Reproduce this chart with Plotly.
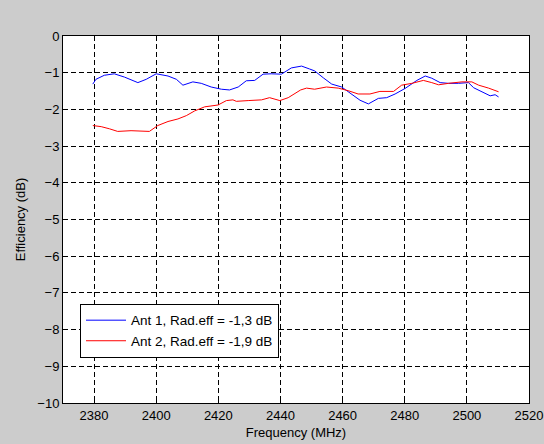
import plotly.graph_objects as go

freq_ant1 = [2379.6, 2380.6, 2383.3, 2386.5, 2389.8, 2394.1, 2396.8, 2400.0, 2403.8, 2406.5,
             2408.6, 2411.8, 2414.5, 2417.7, 2421.0, 2423.6, 2426.4, 2429.0, 2431.7, 2434.4,
             2437.0, 2440.3, 2443.5, 2446.8, 2449.4, 2451.0, 2453.8, 2456.5, 2459.7, 2462.9,
             2465.6, 2468.3, 2471.5, 2474.2, 2476.9, 2480.1, 2483.9, 2486.6, 2488.7, 2491.4,
             2494.1, 2497.3, 2500.5, 2502.2, 2504.8, 2507.5, 2509.1, 2510.2]
eff_ant1 = [-1.31, -1.18, -1.07, -1.03, -1.12, -1.27, -1.18, -1.03, -1.09, -1.18,
            -1.34, -1.25, -1.29, -1.39, -1.45, -1.47, -1.39, -1.22, -1.21, -1.04,
            -1.03, -1.04, -0.87, -0.82, -0.90, -0.95, -1.14, -1.31, -1.39, -1.58,
            -1.75, -1.85, -1.70, -1.68, -1.58, -1.43, -1.21, -1.09, -1.15, -1.27,
            -1.29, -1.29, -1.27, -1.41, -1.51, -1.63, -1.60, -1.66]

freq_ant2 = [2379.6, 2382.3, 2385.0, 2387.6, 2391.9, 2395.2, 2397.8, 2400.5, 2403.8, 2407.0,
             2409.7, 2412.4, 2415.6, 2419.9, 2422.6, 2424.7, 2425.8, 2429.6, 2433.9, 2436.5,
             2439.8, 2442.5, 2444.6, 2446.5, 2448.4, 2451.0, 2454.8, 2458.6, 2461.8, 2465.0,
             2468.8, 2472.0, 2476.4, 2479.0, 2482.3, 2486.0, 2488.7, 2490.9, 2494.1, 2498.4,
             2501.6, 2503.8, 2507.0, 2510.2]
eff_ant2 = [-2.44, -2.47, -2.53, -2.60, -2.58, -2.60, -2.60, -2.44, -2.33, -2.26,
            -2.17, -2.04, -1.93, -1.88, -1.76, -1.74, -1.78, -1.76, -1.74, -1.68,
            -1.76, -1.68, -1.58, -1.47, -1.42, -1.45, -1.39, -1.42, -1.49, -1.58,
            -1.58, -1.51, -1.51, -1.34, -1.29, -1.21, -1.27, -1.33, -1.29, -1.25,
            -1.25, -1.34, -1.42, -1.52]

labels = ["Ant 1, Rad.eff = -1,3 dB", "Ant 2, Rad.eff = -1,9 dB"]
x_ticks = [2380, 2400, 2420, 2440, 2460, 2480, 2500, 2520]
y_ticks = list(range(-10, 1))

font = dict(family="Liberation Sans, Arial, sans-serif", size=13, color="black")
legend_font = dict(family="Liberation Sans, Arial, sans-serif", size=13.5, color="black")

fig = go.Figure()
fig.add_trace(go.Scatter(x=freq_ant1, y=eff_ant1, mode="lines", name=labels[0],
                         line=dict(color="#0000ff", width=1)))
fig.add_trace(go.Scatter(x=freq_ant2, y=eff_ant2, mode="lines", name=labels[1],
                         line=dict(color="#ff0000", width=1)))

axis_common = dict(
    showline=True, linecolor="black", linewidth=1, mirror="ticks",
    ticks="inside", ticklen=5, tickcolor="black",
    showgrid=True, gridcolor="black", griddash="5px,3px", gridwidth=1,
    zeroline=False, tickfont=font, automargin=False,
)

fig.update_xaxes(range=[2370, 2520], tickvals=x_ticks,
                 title=dict(text="Frequency (MHz)", font=font, standoff=6),
                 **axis_common)
fig.update_yaxes(range=[-10, 0], tickvals=y_ticks,
                 title=dict(text="Efficiency (dB)", font=font, standoff=8),
                 **axis_common)

fig.update_layout(
    width=544, height=444,
    margin=dict(l=63, r=15, t=36, b=41),
    paper_bgcolor="#cccccc", plot_bgcolor="white",
    font=font,
    showlegend=True,
    legend=dict(x=0.0365, y=0.27, xanchor="left", yanchor="top",
                bgcolor="white", bordercolor="black", borderwidth=1,
                font=legend_font, tracegroupgap=0, itemwidth=40),
)

fig.write_html("out.html",
               config={"displayModeBar": False},
               post_script="document.body.style.margin='0';"
                           "document.body.style.background='#cccccc';")
